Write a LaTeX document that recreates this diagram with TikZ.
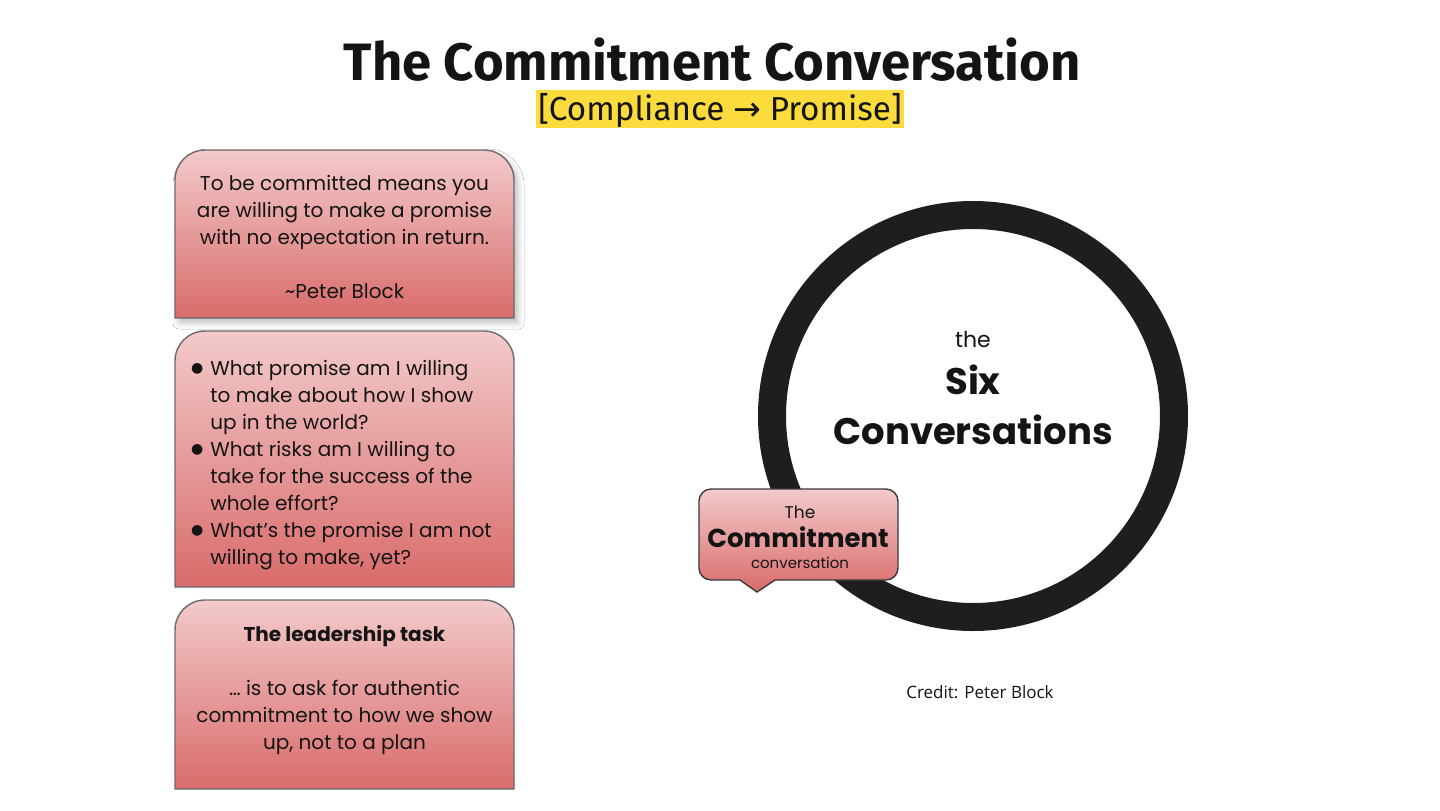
\documentclass[tikz,border=0pt]{standalone}
\usepackage{fontspec}
\setmainfont{Poppins}
\newfontfamily\titlefont{Fira Sans}
\newfontfamily\creditfont{Open Sans}
\newfontfamily\symfont{DejaVu Sans}
\usetikzlibrary{shadows.blur}
\definecolor{boxtop}{HTML}{F3CACA}
\definecolor{boxbot}{HTML}{D96B6B}
\definecolor{boxline}{HTML}{6A6A6A}
\definecolor{calline}{HTML}{3A3A3A}
\definecolor{ringc}{HTML}{1E1E1E}
\definecolor{hl}{HTML}{FCDC3C}
\definecolor{ink}{HTML}{141414}
\newcommand\bul{\llap{\raisebox{1.6pt}{\symfont\fontsize{7}{8}\selectfont ●}\hspace{3.5pt}}}
\begin{document}
\begin{tikzpicture}[x=0.5pt,y=-0.5pt,
  card/.style={draw=boxline, line width=0.7pt, top color=boxtop, bottom color=boxbot},
  cardtext/.style={text=ink, font=\fontsize{10}{13.5}\selectfont, align=center, inner sep=0pt},
  lbl/.style={text=ink, inner sep=0pt}]
\fill[white] (0,0) rectangle (1440,810);
\useasboundingbox (0,0) rectangle (1440,810);
% title
\node[lbl] (title) at (712,60) {\titlefont\bfseries\fontsize{26.3}{30}\selectfont The Commitment Conversation};
\node[fill=hl, text=ink, inner xsep=1pt, inner ysep=1.5pt, text height=13.5pt, text depth=2.5pt] (sub) at (720,109) {\titlefont\fontsize{16.6}{19}\selectfont [Compliance {\symfont→} Promise]};
% box 1
\path[card, blur shadow={shadow xshift=2pt, shadow yshift=-2.5pt, shadow opacity=25, shadow blur radius=3pt}] (175,318) -- (175,180) arc[start angle=180,end angle=270,radius=30] -- (484,150) arc[start angle=270,end angle=360,radius=30] -- (514,318) -- cycle;
\node[cardtext] (quote) at (344.5,237) {To be committed means you\\are willing to make a promise\\with no expectation in return.\\[13.5pt]\textasciitilde Peter Block};
% box 2
\path[card] (175,587) -- (175,361) arc[start angle=180,end angle=270,radius=30] -- (484,331) arc[start angle=270,end angle=360,radius=30] -- (514,587) -- cycle;
\node[cardtext, align=left, anchor=west] (questions) at (210,465) {\bul What promise am I willing\\to make about how I show\\up in the world?\\\bul What risks am I willing to\\take for the success of the\\whole effort?\\\bul What’s the promise I am not\\willing to make, yet?};
% box 3
\path[card] (175,789) -- (175,630) arc[start angle=180,end angle=270,radius=30] -- (484,600) arc[start angle=270,end angle=360,radius=30] -- (514,789) -- cycle;
\node[cardtext] (task) at (344.5,690) {\textbf{The leadership task}\\[13.5pt]… is to ask for authentic\\commitment to how we show\\up, not to a plan};
% ring
\node[draw=ringc, line width=14pt, circle, minimum size=201pt, inner sep=0pt] (ring) at (973,416) {};
\node[lbl] (the) at (973,339) {\fontsize{11}{13}\selectfont the};
\node[lbl] (six) at (973,380) {\bfseries\fontsize{18.5}{22}\selectfont Six};
\node[lbl] (conv) at (973,430) {\bfseries\fontsize{18.5}{22}\selectfont Conversations};
% callout
\path[card, draw=calline] (711,489) -- (886,489) arc[start angle=270,end angle=360,radius=12] -- (898,568) arc[start angle=0,end angle=90,radius=12] -- (775,580) -- (757,592) -- (740,580) -- (711,580) arc[start angle=90,end angle=180,radius=12] -- (699,501) arc[start angle=180,end angle=270,radius=12] -- cycle;
\node[lbl] (cthe) at (800,512) {\fontsize{8.5}{10}\selectfont The};
\node[lbl] (ccom) at (798,537) {\bfseries\fontsize{13}{16}\selectfont Commitment};
\node[lbl] (cconv) at (800,563) {\fontsize{7.5}{9}\selectfont conversation};
% credit
\node[lbl] (credit) at (980,692) {\creditfont\fontsize{8.5}{10}\selectfont Credit: Peter Block};
\end{tikzpicture}
\end{document}
